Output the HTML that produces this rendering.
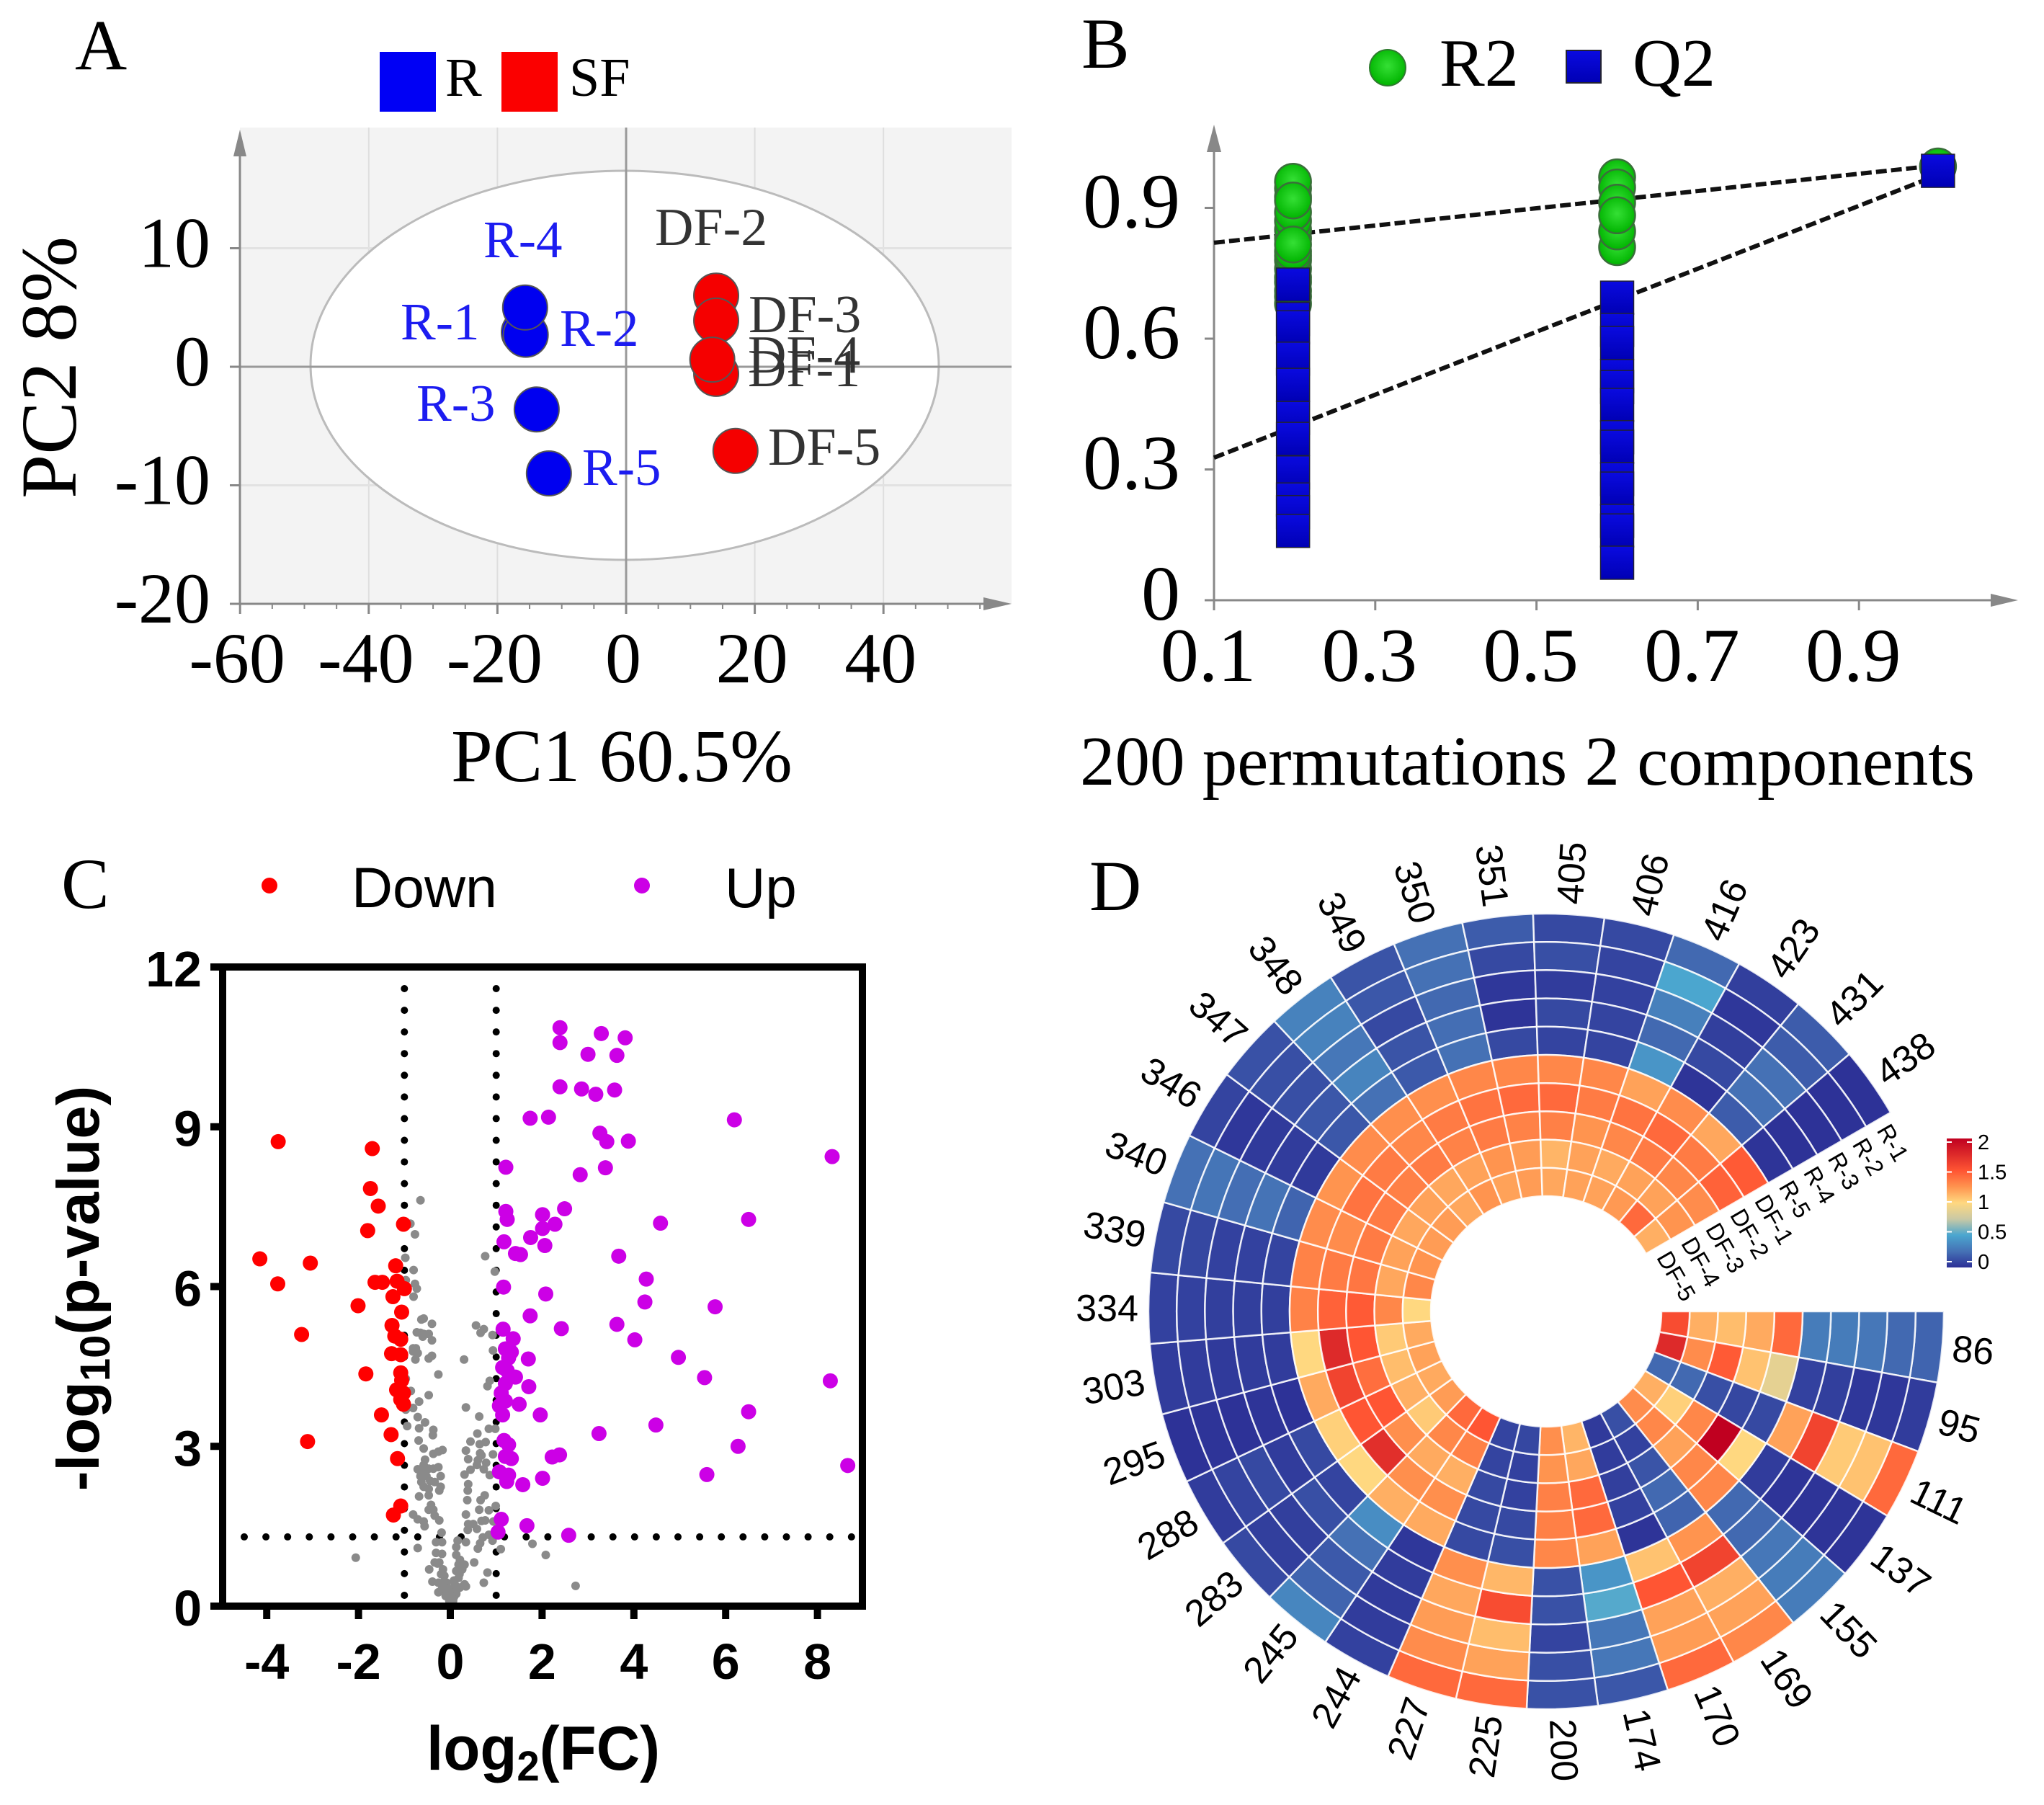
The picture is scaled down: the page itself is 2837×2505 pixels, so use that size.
<!DOCTYPE html>
<html>
<head>
<meta charset="utf-8">
<title>Metabolomics figure panels A-D</title>
<style>
html,body{margin:0;padding:0;background:#fff;}
svg{display:block;}
.serif{font-family:"Liberation Serif",serif;}
.sans{font-family:"Liberation Sans",sans-serif;}
</style>
</head>
<body>
<svg id="fig" xmlns="http://www.w3.org/2000/svg" width="2837" height="2505" viewBox="0 0 2837 2505">
<defs>
<radialGradient id="greenGrad" cx="50%" cy="45%" r="55%"><stop offset="0%" stop-color="#35e035"/><stop offset="100%" stop-color="#00b400"/></radialGradient>
<linearGradient id="blueGrad" x1="0" y1="0" x2="0" y2="1"><stop offset="0%" stop-color="#0a0ae0"/><stop offset="100%" stop-color="#0000b4"/></linearGradient>
<linearGradient id="cbarGrad" x1="0" y1="1" x2="0" y2="0">
<stop offset="0%" stop-color="#2c2f96"/><stop offset="12.5%" stop-color="#4571b5"/><stop offset="25%" stop-color="#4ba6cf"/><stop offset="37.5%" stop-color="#c9c9a5"/><stop offset="50%" stop-color="#ffd880"/><stop offset="62.5%" stop-color="#ff944f"/><stop offset="75%" stop-color="#ff5533"/><stop offset="87.5%" stop-color="#dd2a2a"/><stop offset="100%" stop-color="#c00020"/>
</linearGradient>
</defs>

<!-- Panel letters -->
<text class="serif" x="104" y="96" font-size="100">A</text>
<text class="serif" x="1501" y="94" font-size="100">B</text>
<text class="serif" x="85" y="1260" font-size="100">C</text>
<text class="serif" x="1512" y="1263" font-size="100">D</text>

<!-- Panel A static -->
<g id="panelA">
<rect x="333" y="177" width="1071" height="661" fill="#f3f3f3"/>
<g id="aGrid"></g>
<ellipse cx="867" cy="507" rx="436" ry="270" fill="#fff" stroke="#bbb" stroke-width="3"/>
<g id="aAxes"></g>
<g id="aPoints"></g>
<g class="serif" font-size="73" fill="#1c1cf0">
<text x="671" y="357">R-4</text>
<text x="556" y="471">R-1</text>
<text x="777" y="480">R-2</text>
<text x="578" y="584">R-3</text>
<text x="808" y="673">R-5</text>
</g>
<g class="serif" font-size="74" fill="#333">
<text x="909" y="340">DF-2</text>
<text x="1039" y="461">DF-3</text>
<text x="1038" y="517">DF-4</text>
<text x="1038" y="536">DF-1</text>
<text x="1066" y="645">DF-5</text>
</g>
<text class="serif" x="626" y="1084" font-size="104">PC1 60.5%</text>
<text class="serif" transform="rotate(-90 105 510)" x="105" y="510" font-size="110" text-anchor="middle">PC2 8%</text>
<g>
<rect x="527" y="72" width="78" height="83" fill="#0000f5"/>
<text class="serif" x="618" y="133" font-size="76">R</text>
<rect x="696" y="72" width="78" height="83" fill="#fb0000"/>
<text class="serif" x="790" y="133" font-size="76">SF</text>
</g>
</g>

<!-- Panel B static -->
<g id="panelB">
<g id="bAxes"></g>
<g id="bLines"></g>
<g id="bPoints"></g>
<text class="serif" x="1499" y="1089" font-size="97">200 permutations 2 components</text>
<g>
<circle cx="1926" cy="94" r="25" fill="url(#greenGrad)" stroke="#2f7a2f" stroke-width="2"/>
<text class="serif" x="1998" y="119" font-size="94">R2</text>
<rect x="2174" y="70" width="48" height="45" fill="url(#blueGrad)" stroke="#223" stroke-width="2"/>
<text class="serif" x="2266" y="119" font-size="94">Q2</text>
</g>
</g>

<!-- Panel C static -->
<g id="panelC">
<g id="cLines"></g>
<g id="cPoints"></g>
<rect x="309" y="1342" width="888" height="887" fill="none" stroke="#000" stroke-width="10"/>
<g id="cAxes" class="sans"></g>
<text class="sans" x="592" y="2456" font-size="86" font-weight="bold" textLength="324" lengthAdjust="spacingAndGlyphs">log<tspan dy="15" font-size="58">2</tspan><tspan dy="-15">(FC)</tspan></text>
<text class="sans" transform="rotate(-90 137 1788)" x="137" y="1788" font-size="83" font-weight="bold" text-anchor="middle">-log<tspan dy="15" font-size="58">10</tspan><tspan dy="-15">(p-value)</tspan></text>
<g class="sans">
<circle cx="374" cy="1229" r="11" fill="#ff0000"/>
<text x="488" y="1259" font-size="79">Down</text>
<circle cx="891" cy="1229" r="11" fill="#cc00e6"/>
<text x="1006" y="1259" font-size="78">Up</text>
</g>
</g>

<!-- Panel D static -->
<g id="panelD">
<g id="dCells"></g>
<g id="dLabels" class="sans"></g>
<g id="dBar" class="sans">
<rect x="2702" y="1580" width="35" height="179" fill="url(#cbarGrad)"/>
</g>
</g>
</svg>

<script>
// ---------- Panel A data ----------
var pcaTicksX = [-60, -40, -20, 0, 20, 40];
var pcaTicksY = [10, 0, -10, -20];
var pcaGridX = [-40, -20, 20, 40];
var pcaGridY = [10, -10];
var pcaMinorX = [-55,-50,-45,-35,-30,-25,-15,-10,-5,5,10,15,25,30,35,45,50,55];
var pcaNames = ['R-1','R-2','R-3','R-5','R-4','DF-2','DF-3','DF-1','DF-4','DF-5'];
var pcaGroups = ['R','R','R','R','R','SF','SF','SF','SF','SF'];
var pcaPC1 = [-15.9,-15.6,-13.9,-12.0,-15.7,14.0,14.0,14.0,13.4,17.0];
var pcaPC2 = [2.9,2.7,-3.6,-9.0,5.0,6.0,3.9,-0.6,0.6,-7.1];

// ---------- Panel B data ----------
var permTicksX = ['0.1','0.3','0.5','0.7','0.9'];
var permTicksY = ['0','0.3','0.6','0.9'];
var r2At02 = [0.68,0.697,0.71,0.73,0.74,0.76,0.78,0.79,0.80,0.83,0.85,0.87,0.89,0.925,0.945,0.96,0.816,0.917];
var q2At02 = [0.724,0.645,0.626,0.554,0.494,0.418,0.370,0.293,0.231,0.202,0.159];
var r2At06 = [0.81,0.846,0.97,0.947,0.912,0.883];
var q2At06 = [0.694,0.620,0.590,0.514,0.489,0.448,0.374,0.352,0.278,0.256,0.182,0.160,0.086];
var r2At10 = [0.995];
var q2At10 = [0.985];
var compR2X = [0.198, 0.6, 0.998];
var lineEndsX = [0.1, 1.0];
var r2Line = [0.82, 0.998];
var q2Line = [0.327, 0.977];

// ---------- Panel C data ----------
var volTicksX = [-4,-2,0,2,4,6,8];
var volTicksY = [0,3,6,9,12];
var volCutX = [-1, 1];
var volCutY = 1.3;
var grayFC = [-0.65,-0.87,-0.77,-0.98,-0.80,0.76,0.97,-0.97,-0.77,-0.73,-0.80,-0.63,-0.58,-0.40,-0.73,-0.65,-0.58,-0.47,-0.60,-0.40,-0.81,-0.75,-0.81,-0.71,-0.76,-0.47,-0.40,-0.26,0.30,0.56,0.73,0.66,0.92,0.93,0.86,0.81,-0.47,-0.68,-0.81,-0.97,-0.86,-0.97,0.34,0.63,-0.71,-0.55,-0.68,-0.37,-0.38,-0.94,0.59,0.84,0.98,0.44,0.64,0.77,-0.69,-0.58,-0.37,-0.26,-0.17,0.34,0.65,0.68,0.39,0.60,0.78,-0.55,-0.58,-0.71,-0.60,-0.47,-0.26,-0.37,-0.65,-0.52,-0.21,0.58,0.44,0.31,0.73,0.86,0.93,-0.63,-0.44,-0.34,-0.58,-0.47,-0.21,-0.24,-0.47,-0.68,0.39,0.38,0.37,0.75,0.66,0.63,0.84,0.99,-0.42,-0.47,-0.37,-0.34,-0.24,-0.81,-0.71,-0.58,-0.56,0.34,0.39,0.50,0.58,0.38,0.68,0.76,0.94,-0.19,-0.31,-0.18,-0.71,0.16,0.34,0.13,0.71,0.84,0.92,0.65,0.60,1.10,1.79,2.08,-2.06,-0.31,-0.18,0.13,-0.34,-0.24,0.52,0.21,0.18,0.31,-0.46,-0.16,0.13,0.26,0.81,0.73,-0.39,-0.26,-0.13,-0.08,0.08,0.18,0.31,0.21,-0.26,-0.18,-0.08,0.03,0.13,0.34,-0.03,0.03,0,-0.10,0.08,2.73,-0.05,0.05,-0.15,0.10,-0.20,0.20,-0.28,0.25,-0.12,0.14,-0.02,0.06];
var grayP = [7.62,7.18,6.98,6.54,6.31,6.57,6.28,6.12,6.05,5.96,5.81,5.38,5.40,5.30,5.14,5.13,5.11,5.11,5.06,4.99,4.84,4.84,4.78,4.75,4.63,4.65,4.70,4.35,4.63,5.27,5.20,5.13,5.09,4.80,4.23,4.13,3.96,3.84,3.72,3.69,4.04,4.27,3.73,3.56,3.55,3.45,3.34,3.31,3.21,3.38,3.24,3.33,3.33,3.09,3.04,3.08,3.11,2.96,2.86,2.90,2.93,2.92,2.87,2.83,2.76,2.74,2.69,2.75,2.65,2.57,2.56,2.58,2.61,2.58,2.44,2.44,2.44,2.65,2.56,2.47,2.57,2.46,2.85,2.33,2.35,2.33,2.24,2.20,2.24,2.17,2.08,2.06,2.29,2.17,1.99,2.08,1.99,1.81,1.80,1.88,1.90,1.81,1.81,1.70,1.61,1.72,1.63,1.59,1.50,1.72,1.54,1.54,1.45,1.43,1.60,1.61,1.59,1.38,1.20,1.20,1.09,1.23,1.20,1.11,1.29,1.34,1.23,1.18,1.08,1.07,1.17,0.96,0.91,1.00,0.98,0.96,0.82,0.82,0.82,0.87,0.78,0.78,0.69,0.69,0.66,0.69,0.63,0.44,0.46,0.44,0.57,0.44,0.48,0.53,0.41,0.35,0.26,0.32,0.28,0.32,0.23,0.37,0.17,0.12,0.05,0.19,0.17,0.38,0.30,0.25,0.45,0.40,0.60,0.60,0.80,0.75,0.35,0.30,0.10,0.10];
var downFC = [-3.75,-1.70,-1.74,-1.57,-1.02,-1.80,-4.15,-3.05,-1.19,-3.76,-1.64,-1.48,-1.16,-1.00,-1.25,-2.01,-1.06,-1.27,-3.24,-1.21,-1.08,-1.28,-1.08,-1.84,-1.08,-1.06,-1.17,-1.02,-1.08,-1.02,-1.50,-1.29,-3.11,-1.15,-1.08,-1.24];
var downP = [8.72,8.59,7.84,7.51,7.17,7.05,6.52,6.44,6.39,6.05,6.08,6.08,6.10,5.96,5.81,5.64,5.52,5.27,5.10,5.07,5.01,4.74,4.72,4.36,4.38,4.24,4.06,4.00,3.88,3.79,3.59,3.22,3.09,2.77,1.88,1.71];
var upFC = [2.39,2.39,3.29,3.81,3.00,3.63,2.39,2.86,3.17,3.58,1.74,2.14,6.19,3.26,3.41,3.88,1.21,3.38,2.83,8.32,1.21,1.24,2.01,2.49,2.01,2.28,4.58,6.50,1.75,1.17,2.06,1.42,1.53,3.67,4.27,1.16,2.08,4.24,5.77,1.74,1.15,2.42,3.63,4.02,1.37,4.97,1.20,1.33,1.70,1.27,1.14,1.24,1.42,5.54,8.28,1.20,1.71,1.11,1.07,1.20,1.50,1.14,1.96,6.50,4.48,3.24,1.17,1.27,6.27,2.38,2.22,1.20,1.33,1.07,1.27,1.23,1.58,2.01,5.59,8.66,1.11,1.67,1.04,2.58];
var upP = [10.86,10.58,10.75,10.67,10.36,10.34,9.75,9.71,9.61,9.69,9.16,9.18,9.13,8.88,8.72,8.73,8.24,8.23,8.10,8.44,7.41,7.26,7.35,7.46,7.09,7.17,7.19,7.26,6.92,6.84,6.77,6.62,6.60,6.57,6.14,5.99,5.86,5.71,5.62,5.45,5.20,5.21,5.29,5.00,5.02,4.67,4.83,4.77,4.64,4.66,4.48,4.42,4.30,4.29,4.23,4.18,4.12,4.00,3.76,3.85,3.79,3.59,3.59,3.65,3.40,3.24,3.11,3.03,3.00,2.84,2.80,2.81,2.77,2.52,2.46,2.34,2.28,2.40,2.47,2.64,1.63,1.51,1.39,1.33];

// ---------- Panel D data ----------
var sectorLabels = ['86','95','111','137','155','169','170','174','200','225','227','244','245','283','288','295','303','334','339','340','346','347','348','349','350','351','405','406','416','423','431','438'];
var ringLabels = ['R-1','R-2','R-3','R-4','R-5','DF-1','DF-2','DF-3','DF-4','DF-5'];
var barTicks = ['0','0.5','1','1.5','2'];
// one row per sector; columns follow ringLabels
var s86=[.2,.22,.28,.3,.3,1.42,1.17,1.1,1.15,1.55];
var s95=[.05,.03,.03,.06,.07,.88,1.08,1.48,1.28,1.75];
var s111=[1.42,1.08,1.05,1.6,1.2,.1,.09,.12,.22,.22];
var s137=[.02,.02,.02,.02,.05,1.0,2.0,1.3,1.03,1.15];
var s155=[.3,.3,.28,.22,.22,1.3,1.3,1.2,1.3,1.28];
var s169=[1.3,1.2,1.15,1.6,1.25,.2,.22,.14,.07,.12];
var s170=[1.42,1.22,1.2,1.5,1.08,.02,.07,.06,.05,.04];
var s174=[.15,.28,.28,.52,.42,1.2,1.42,1.42,1.18,1.13];
var s200=[.13,.12,.08,.13,.13,1.3,1.33,1.33,1.25,1.27];
var s225=[1.42,1.2,1.1,1.55,1.12,.12,.1,.07,.07,.09];
var s227=[1.42,1.28,1.22,1.18,1.27,.1,.1,.1,.08,.08];
var s244=[.07,.05,.04,.05,.03,1.17,1.27,1.15,1.33,1.5];
var s245=[.35,.2,.16,.25,.38,1.15,1.27,1.17,1.3,1.42];
var s283=[.1,.06,.06,.12,.08,1.0,1.72,1.27,1.05,1.22];
var s288=[.05,.08,.1,.05,.1,1.03,1.5,1.5,1.15,1.17];
var s295=[.01,.02,.01,.02,.01,1.17,1.6,1.4,1.1,1.2];
var s303=[.05,.05,.04,.05,.05,1.0,1.75,1.5,1.05,1.17];
var s334=[.07,.07,.06,.06,.06,1.32,1.45,1.48,1.3,1.0];
var s339=[.1,.09,.07,.07,.08,1.32,1.35,1.37,1.18,1.3];
var s340=[.25,.27,.24,.26,.2,1.28,1.28,1.35,1.2,1.25];
var s346=[.08,.03,.04,.05,.04,1.25,1.38,1.35,1.18,1.22];
var s347=[.13,.12,.12,.15,.15,1.28,1.35,1.33,1.2,1.22];
var s348=[.33,.33,.28,.34,.25,1.27,1.3,1.35,1.18,1.18];
var s349=[.14,.15,.1,.14,.16,1.27,1.35,1.32,1.2,1.25];
var s350=[.25,.25,.22,.24,.25,1.3,1.38,1.35,1.25,1.2];
var s351=[.17,.1,.03,.02,.1,1.3,1.42,1.32,1.22,1.22];
var s405=[.1,.12,.05,.1,.08,1.3,1.42,1.33,1.13,1.18];
var s406=[.1,.08,.07,.08,.08,1.3,1.35,1.25,1.2,1.2];
var s416=[.22,.5,.32,.22,.42,1.2,1.38,1.3,1.17,1.2];
var s423=[.06,.03,.06,.1,.02,1.28,1.42,1.35,1.2,1.23];
var s431=[.17,.17,.25,.25,.17,1.18,1.35,1.3,1.2,1.42];
var s438=[.01,.01,.01,.01,.02,1.48,1.45,1.28,1.25,1.15];
var heatValues = [s86,s95,s111,s137,s155,s169,s170,s174,s200,s225,s227,s244,s245,s283,s288,s295,s303,s334,s339,s340,s346,s347,s348,s349,s350,s351,s405,s406,s416,s423,s431,s438];
var colorValues = [0,.25,.5,.75,1,1.25,1.5,1.75,2];
var colorRamp = ['#2c2f96','#4571b5','#4ba6cf','#c9c9a5','#ffd880','#ff944f','#ff5533','#dd2a2a','#c00020'];

// ---------- helpers ----------
var NS = 'http://www.w3.org/2000/svg';
function add(parent, tag, attrs, txt) {
  var el = document.createElementNS(NS, tag);
  for (var k in attrs) el.setAttribute(k, attrs[k]);
  if (txt !== undefined) el.textContent = txt;
  document.getElementById(parent).appendChild(el);
  return el;
}
function gradeColor(v) {
  var i = 0;
  while (i < colorValues.length - 2 && v > colorValues[i + 1]) i++;
  var t = Math.max(0, Math.min(1, (v - colorValues[i]) / (colorValues[i + 1] - colorValues[i])));
  var a = colorRamp[i], b = colorRamp[i + 1], out = '#';
  for (var c = 1; c < 7; c += 2) {
    var x = parseInt(a.substr(c, 2), 16), y = parseInt(b.substr(c, 2), 16);
    var m = Math.round(x + (y - x) * t).toString(16);
    out += (m.length < 2 ? '0' : '') + m;
  }
  return out;
}

// ---------- Panel A ----------
function aX(v) { return 869 + v * 8.93; }
function aY(v) { return 509 - v * 16.45; }
pcaGridX.forEach(function (v) {
  var el = add('aGrid', 'line', {x1: aX(v), x2: aX(v), y1: 177, y2: 838, stroke: '#dedede', 'stroke-width': 2});
  
  
});
pcaGridY.forEach(function (v) {
  var el = add('aGrid', 'line', {x1: 333, x2: 1404, y1: aY(v), y2: aY(v), stroke: '#e2e2e2', 'stroke-width': 3});
  
  
});
(function () {
  var el = add('aAxes', 'line', {x1: aX(0), x2: aX(0), y1: 177, y2: 838, stroke: '#999', 'stroke-width': 3});
  
  
  el = add('aAxes', 'line', {x1: 333, x2: 1404, y1: aY(0), y2: aY(0), stroke: '#999', 'stroke-width': 3});
  
  
  el = add('aAxes', 'line', {x1: 333, x2: 1385, y1: 838, y2: 838, stroke: '#888', 'stroke-width': 3});
  
  
  el = add('aAxes', 'line', {x1: 333, x2: 333, y1: 838, y2: 200, stroke: '#888', 'stroke-width': 3});
  
  
  el = add('aAxes', 'polygon', {points: '1404,838 1365,829 1365,847', fill: '#888'});
  
  
  el = add('aAxes', 'polygon', {points: '333,180 324,217 342,217', fill: '#888'});
  
  
})();
pcaMinorX.forEach(function (v) {
  var el = add('aAxes', 'line', {x1: aX(v), x2: aX(v), y1: 838, y2: 845, stroke: '#888', 'stroke-width': 2});
  
  
});
pcaTicksX.forEach(function (v) {
  var el = add('aAxes', 'line', {x1: aX(v), x2: aX(v), y1: 838, y2: 852, stroke: '#888', 'stroke-width': 3});
  
  
  var t = add('aAxes', 'text', {x: aX(v) - 4, y: 947, 'font-size': 100, 'text-anchor': 'middle', 'class': 'serif'}, String(v));
  
  
});
pcaTicksY.forEach(function (v) {
  var el = add('aAxes', 'line', {x1: 319, x2: 333, y1: aY(v), y2: aY(v), stroke: '#888', 'stroke-width': 3});
  
  
  var t = add('aAxes', 'text', {x: 292, y: aY(v) + 26, 'font-size': 100, 'text-anchor': 'end', 'class': 'serif'}, String(v));
  
  
});
pcaNames.forEach(function (n, i) {
  var el = add('aPoints', 'circle', {cx: aX(pcaPC1[i]), cy: aY(pcaPC2[i]), r: 31, fill: pcaGroups[i] === 'R' ? '#0000f0' : '#f50000', stroke: '#555', 'stroke-width': 2});
  
  
});

// ---------- Panel B ----------
function bX(v) { return 1685 + (v - 0.1) * 1119; }
function bY(v) { return 833 - v * 605; }
(function () {
  var el = add('bAxes', 'line', {x1: 1685, x2: 2770, y1: 833, y2: 833, stroke: '#888', 'stroke-width': 3});
  
  
  el = add('bAxes', 'line', {x1: 1685, x2: 1685, y1: 833, y2: 195, stroke: '#888', 'stroke-width': 3});
  
  
  el = add('bAxes', 'polygon', {points: '2801,833 2763,824 2763,842', fill: '#888'});
  
  
  el = add('bAxes', 'polygon', {points: '1685,173 1675,211 1695,211', fill: '#888'});
  
  
})();
permTicksX.forEach(function (s) {
  var v = parseFloat(s);
  var el = add('bAxes', 'line', {x1: bX(v), x2: bX(v), y1: 833, y2: 847, stroke: '#888', 'stroke-width': 3});
  
  
  var t = add('bAxes', 'text', {x: bX(v) - 8, y: 945, 'font-size': 106, 'text-anchor': 'middle', 'class': 'serif'}, s);
  
  
});
permTicksY.forEach(function (s) {
  var v = parseFloat(s);
  var el = add('bAxes', 'line', {x1: 1672, x2: 1685, y1: bY(v), y2: bY(v), stroke: '#888', 'stroke-width': 3});
  
  
  var t = add('bAxes', 'text', {x: 1638, y: bY(v) + 27, 'font-size': 108, 'text-anchor': 'end', 'class': 'serif'}, s);
  
  
});
(function () {
  var el = add('bLines', 'line', {x1: bX(lineEndsX[0]), x2: bX(lineEndsX[1]), y1: bY(r2Line[0]), y2: bY(r2Line[1]), stroke: '#111', 'stroke-width': 6, 'stroke-dasharray': '15 6'});
  
  
  el = add('bLines', 'line', {x1: bX(lineEndsX[0]), x2: bX(lineEndsX[1]), y1: bY(q2Line[0]), y2: bY(q2Line[1]), stroke: '#111', 'stroke-width': 6, 'stroke-dasharray': '15 6'});
  
  
})();
function drawR2(list, x) {
  list.forEach(function (v) {
    var el = add('bPoints', 'circle', {cx: bX(x), cy: bY(v), r: 25, fill: 'url(#greenGrad)', stroke: '#3a6e3a', 'stroke-width': 2.5});
    
    
  });
}
function drawQ2(list, x) {
  list.forEach(function (v) {
    var el = add('bPoints', 'rect', {x: bX(x) - 23, y: bY(v) - 23, width: 46, height: 46, fill: 'url(#blueGrad)', stroke: '#223', 'stroke-width': 1.5});
    
    
  });
}
drawR2(r2At02, compR2X[0]); drawR2(r2At06, compR2X[1]); drawR2(r2At10, compR2X[2]);
drawQ2(q2At02, compR2X[0]); drawQ2(q2At06, compR2X[1]); drawQ2(q2At10, compR2X[2]);

// ---------- Panel C ----------
function cX(v) { return 625 + v * 63.7; }
function cY(v) { return 2229 - v * 73.92; }
volCutX.forEach(function (v) {
  for (var py = 1372; py <= 2216; py += 30.07) {
    var el = add('cLines', 'circle', {cx: cX(v), cy: py, r: 5, fill: '#000'});
    
    
  }
});
for (var px = 339; px <= 1184; px += 30.1) {
  var hd = add('cLines', 'circle', {cx: px, cy: cY(volCutY), r: 5, fill: '#000'});
  
  
}
grayFC.forEach(function (v, i) {
  var el = add('cPoints', 'circle', {cx: cX(v), cy: cY(grayP[i]), r: 6, fill: '#8a8a8a'});
  
  
});
downFC.forEach(function (v, i) {
  var el = add('cPoints', 'circle', {cx: cX(v), cy: cY(downP[i]), r: 10.5, fill: '#ff0000'});
  
  
});
upFC.forEach(function (v, i) {
  var el = add('cPoints', 'circle', {cx: cX(v), cy: cY(upP[i]), r: 10.5, fill: '#cc00e6'});
  
  
});
volTicksX.forEach(function (v) {
  var el = add('cAxes', 'line', {x1: cX(v), x2: cX(v), y1: 2229, y2: 2247, stroke: '#000', 'stroke-width': 10});
  
  
  var t = add('cAxes', 'text', {x: cX(v), y: 2330, 'font-size': 70, 'font-weight': 'bold', 'text-anchor': 'middle'}, String(v));
  
  
});
volTicksY.forEach(function (v) {
  var el = add('cAxes', 'line', {x1: 292, x2: 309, y1: cY(v), y2: cY(v), stroke: '#000', 'stroke-width': 10});
  
  
  var t = add('cAxes', 'text', {x: 280, y: cY(v) + 27, 'font-size': 70, 'font-weight': 'bold', 'text-anchor': 'end'}, String(v));
  
  
});

// ---------- Panel D ----------
var dCx = 2146, dCy = 1820, dInner = 160, dOuter = 552;
var dStep = 330 / sectorLabels.length;
function rad(deg) { return deg * Math.PI / 180; }
function polar(r, deg) { return [dCx + r * Math.cos(rad(deg)), dCy + r * Math.sin(rad(deg))]; }
function ringR(i) { return dOuter - i * (dOuter - dInner) / ringLabels.length; }
heatValues.forEach(function (row, s) {
  var a0 = s * dStep, a1 = (s + 1) * dStep;
  row.forEach(function (v, k) {
    var rO = ringR(k), rI = ringR(k + 1);
    var p1 = polar(rO, a0), p2 = polar(rO, a1), p3 = polar(rI, a1), p4 = polar(rI, a0);
    var d = 'M' + p1.join(' ') + ' A' + rO + ' ' + rO + ' 0 0 1 ' + p2.join(' ') + ' L' + p3.join(' ') + ' A' + rI + ' ' + rI + ' 0 0 0 ' + p4.join(' ') + ' Z';
    var el = add('dCells', 'path', {d: d, fill: gradeColor(v), stroke: '#fff', 'stroke-width': 2.5, 'stroke-opacity': 0.85});
    
    
  });
});
sectorLabels.forEach(function (lab, s) {
  var mid = (s + 0.5) * dStep;
  var pos = polar(dOuter + 14, mid);
  var flip = mid > 90 && mid < 270;
  var t = add('dLabels', 'text', {
    x: pos[0], y: pos[1], dy: '0.35em', 'font-size': 52, 'text-anchor': flip ? 'end' : 'start',
    transform: 'rotate(' + (flip ? mid - 180 : mid) + ' ' + pos[0] + ' ' + pos[1] + ')'
  }, lab);
  
  
});
ringLabels.forEach(function (lab, k) {
  var p = polar((ringR(k) + ringR(k + 1)) / 2, 330);
  var x = p[0] + 7, y = p[1] + 9;
  var t = add('dLabels', 'text', {
    x: x, y: y, dy: '0.35em', 'font-size': 33, 'text-anchor': 'start',
    transform: 'rotate(60 ' + x + ' ' + y + ')'
  }, lab);
  
  
});
function barY(v) { return 1751 - v * 83; }
barTicks.forEach(function (s) {
  var v = parseFloat(s);
  var a = add('dBar', 'line', {x1: 2702, x2: 2709, y1: barY(v), y2: barY(v), stroke: '#fff', 'stroke-width': 2});
  
  
  var b = add('dBar', 'line', {x1: 2730, x2: 2737, y1: barY(v), y2: barY(v), stroke: '#fff', 'stroke-width': 2});
  
  
  var t = add('dBar', 'text', {x: 2745, y: barY(v) + 10, 'font-size': 29}, s);
  
  
});
</script>
</body>
</html>
